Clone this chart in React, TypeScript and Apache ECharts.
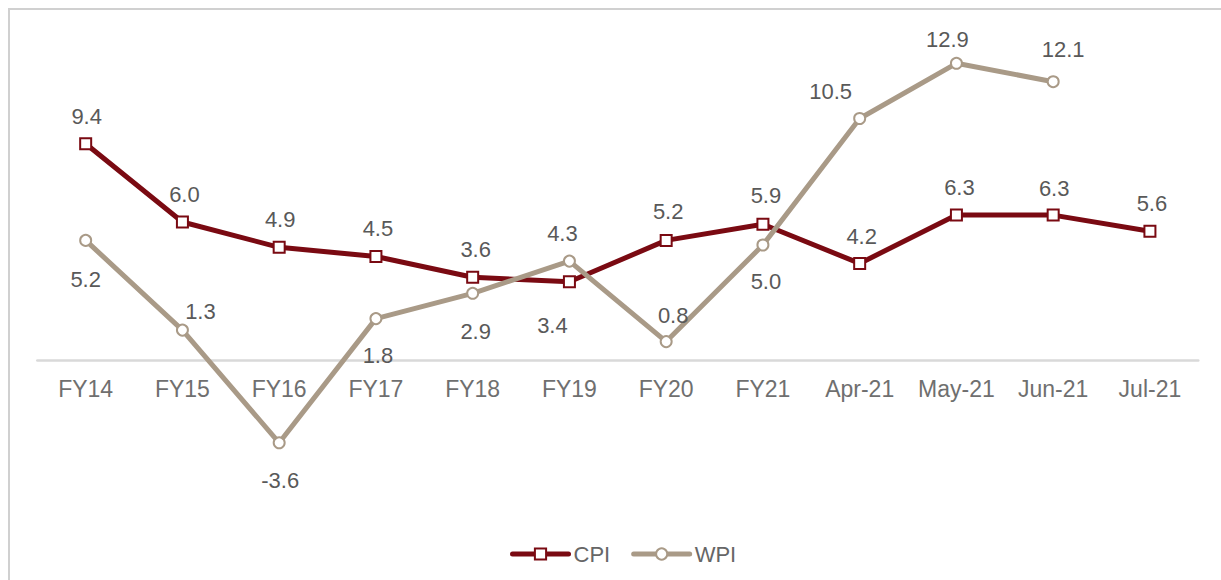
import React, { useEffect, useRef } from "react";
import * as echarts from "echarts";

const categories = ["FY14", "FY15", "FY16", "FY17", "FY18", "FY19", "FY20", "FY21", "Apr-21", "May-21", "Jun-21", "Jul-21"];
const cpiValues = [9.4, 6.0, 4.9, 4.5, 3.6, 3.4, 5.2, 5.9, 4.2, 6.3, 6.3, 5.6];
const wpiValues = [5.2, 1.3, -3.6, 1.8, 2.9, 4.3, 0.8, 5.0, 10.5, 12.9, 12.1];

// label offsets relative to marker centre (style only)
const cpiLabelOffsets: number[][] = [
  [1, -27], [2, -28], [1, -28], [2, -28], [3, -28], [-17, 44],
  [2, -29], [3, -29], [2, -27], [3, -28], [1, -27], [2, -28],
];
const wpiLabelOffsets: number[][] = [
  [0, 39], [18, -19], [1, 38], [2, 37], [3, 38], [-7, -28],
  [7, -26], [3, 36], [-29, -27], [-9, -24], [10, -32],
];

const FONT = "'Liberation Sans', Arial, sans-serif";
const CPI_COLOR = "#7A0A12";
const WPI_COLOR = "#A99A87";

export default function App() {
  const ref = useRef<HTMLDivElement>(null);
  useEffect(() => {
    document.body.style.margin = "0";
    if (!ref.current) return;
    const chart = echarts.init(ref.current, undefined, { renderer: "svg" });
    const mk = (vals: number[], offs: number[][]) =>
      vals.map((v, i) => ({
        value: v,
        label: { offset: offs[i] },
      }));
    const labelBase = {
      show: true,
      position: "inside",
      color: "#595959",
      fontSize: 22,
      fontFamily: FONT,
      textBorderWidth: 0,
      formatter: (p: any) => Number(p.value).toFixed(1),
    };
    chart.setOption({
      animation: false,
      backgroundColor: "#ffffff",
      graphic: [
        { type: "line", shape: { x1: 9, y1: 9, x2: 9, y2: 580 }, style: { stroke: "#d0d0d0", lineWidth: 2 }, silent: true },
        { type: "line", shape: { x1: 8, y1: 9, x2: 1221, y2: 9 }, style: { stroke: "#d0d0d0", lineWidth: 2 }, silent: true },
      ],
      grid: { left: 37.3, right: 22.7, top: 38, bottom: 220, containLabel: false },
      legend: {
        data: ["CPI", "WPI"],
        left: 505,
        top: 538,
        itemWidth: 56,
        itemHeight: 14,
        itemGap: 21,
        lineStyle: { width: 5, cap: "round" },
        textStyle: { color: "#666666", fontSize: 22, fontFamily: FONT },
      },
      xAxis: {
        type: "category",
        data: categories,
        boundaryGap: true,
        axisTick: { show: false },
        axisLine: { lineStyle: { color: "#d9d9d9", width: 2.5 } },
        axisLabel: { color: "#6f6f6f", fontSize: 23, fontFamily: FONT, margin: 17, interval: 0 },
      },
      yAxis: {
        type: "value",
        min: 0,
        max: 14,
        show: false,
        splitLine: { show: false },
      },
      series: [
        {
          name: "CPI",
          type: "line",
          data: mk(cpiValues, cpiLabelOffsets),
          symbol: "rect",
          symbolSize: 11,
          showAllSymbol: true,
          clip: false,
          lineStyle: { color: CPI_COLOR, width: 5 },
          itemStyle: { color: "#ffffff", borderColor: CPI_COLOR, borderWidth: 2 },
          label: labelBase,
          z: 2,
        },
        {
          name: "WPI",
          type: "line",
          data: mk(wpiValues, wpiLabelOffsets),
          symbol: "circle",
          symbolSize: 11,
          showAllSymbol: true,
          clip: false,
          lineStyle: { color: WPI_COLOR, width: 5 },
          itemStyle: { color: "#ffffff", borderColor: WPI_COLOR, borderWidth: 2 },
          label: labelBase,
          z: 3,
        },
      ],
    });
    return () => chart.dispose();
  }, []);
  return <div ref={ref} style={{ width: 1221, height: 580 }} />;
}
